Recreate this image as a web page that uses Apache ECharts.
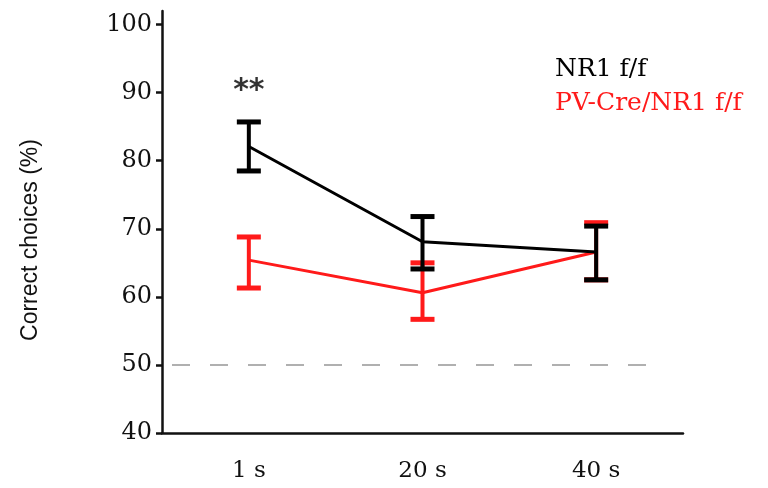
<!DOCTYPE html>
<html><head><meta charset="utf-8">
<script src="https://cdn.jsdelivr.net/npm/echarts@6/dist/echarts.min.js"></script>
<style>html,body{margin:0;padding:0;background:#fff}#c{width:768px;height:488px}</style>
</head><body><div id="c"></div>
<script>
const categories = ['1 s', '20 s', '40 s'];
const yTicks = [40, 50, 60, 70, 80, 90, 100];
const nr1Mean = [82.1, 68.1, 66.6];
const nr1Low = [78.5, 64.1, 62.5];
const nr1High = [85.7, 71.8, 70.4];
const pvMean = [65.4, 60.6, 66.6];
const pvLow = [61.3, 56.7, 62.5];
const pvHigh = [68.8, 65.0, 70.9];
const chanceLevel = 50;
const sigLabel = '**';
const sigPos = [0, 90.2];
const nameNR1 = 'NR1 f/f';
const namePV = 'PV-Cre/NR1 f/f';

const RED = '#ff1a1a', BLACK = '#000';
const serif = '"DejaVu Serif", "Liberation Serif", serif';

function errSeries(name, low, high, color) {
  return {
    type: 'custom', name: name + ' err', z: 5,
    data: low.map((l, i) => [i, l, high[i]]),
    renderItem: function (params, api) {
      const top = api.coord([api.value(0), api.value(2)]);
      const bot = api.coord([api.value(0), api.value(1)]);
      const hw = 12;
      const st = { stroke: color, lineWidth: 4 };
      return { type: 'group', children: [
        { type: 'line', shape: { x1: top[0], y1: top[1], x2: bot[0], y2: bot[1] }, style: st },
        { type: 'line', shape: { x1: top[0] - hw, y1: top[1], x2: top[0] + hw, y2: top[1] }, style: { stroke: color, lineWidth: 5 } },
        { type: 'line', shape: { x1: bot[0] - hw, y1: bot[1], x2: bot[0] + hw, y2: bot[1] }, style: { stroke: color, lineWidth: 5 } }
      ]};
    },
    silent: true
  };
}

const chart = echarts.init(document.getElementById('c'));
chart.setOption({
  animation: false,
  backgroundColor: '#fff',
  grid: { left: 162, right: 85, top: 11, bottom: 55 },
  legend: {
    orient: 'vertical', left: 550, top: 52, itemWidth: 0, itemHeight: 0, itemGap: 9,
    icon: 'none',
    data: [
      { name: nameNR1, textStyle: { color: BLACK } },
      { name: namePV, textStyle: { color: RED } }
    ],
    textStyle: { fontFamily: serif, fontSize: 25, padding: [0, 0, 0, -5] }
  },
  xAxis: {
    type: 'category', data: categories, boundaryGap: true,
    axisLine: { lineStyle: { color: '#111', width: 2.5 } },
    axisTick: { show: false },
    axisLabel: { color: '#111', fontFamily: serif, fontSize: 23, margin: 27 },
    splitLine: { show: false }
  },
  yAxis: {
    type: 'value', min: 40, max: 102, interval: 10,
    name: 'Correct choices (%)', nameLocation: 'middle', nameGap: 120, nameRotate: 90,
    nameTextStyle: { color: '#111', fontFamily: '"Liberation Sans", "Noto Sans", sans-serif', fontSize: 23, padding: [0, 36, 0, 0] },
    axisLine: { show: true, lineStyle: { color: '#111', width: 2.5 } },
    axisTick: { show: true, length: 6, lineStyle: { color: '#111', width: 2.5 }, customValues: yTicks },
    axisLabel: { color: '#111', fontFamily: serif, fontSize: 24, margin: 10, customValues: yTicks },
    splitLine: { show: false }
  },
  series: [
    {
      type: 'custom', name: 'chance', z: 2, silent: true,
      data: [[0, chanceLevel]],
      renderItem: function (params, api) {
        const cs = params.coordSys;
        const y = api.coord([0, api.value(1)])[1];
        return { type: 'line', shape: { x1: cs.x + 10, y1: y, x2: cs.x + cs.width - 33, y2: y },
          style: { stroke: '#b0b0b0', lineWidth: 2, lineDash: [18, 20] } };
      }
    },
    {
      type: 'line', name: namePV, data: pvMean, color: RED, z: 3,
      symbol: 'none', lineStyle: { color: RED, width: 3 }
    },
    errSeries(namePV, pvLow, pvHigh, RED),
    {
      type: 'line', name: nameNR1, data: nr1Mean, color: BLACK, z: 6,
      symbol: 'none', lineStyle: { color: BLACK, width: 3 }
    },
    errSeries(nameNR1, nr1Low, nr1High, BLACK),
    {
      type: 'scatter', name: 'sig', data: [sigPos], symbolSize: 0, z: 10,
      label: { show: true, position: 'inside', formatter: sigLabel, color: '#000',
        fontFamily: '"DejaVu Sans", sans-serif', fontSize: 30, fontWeight: 'bold' }
    }
  ]
});
</script></body></html>
